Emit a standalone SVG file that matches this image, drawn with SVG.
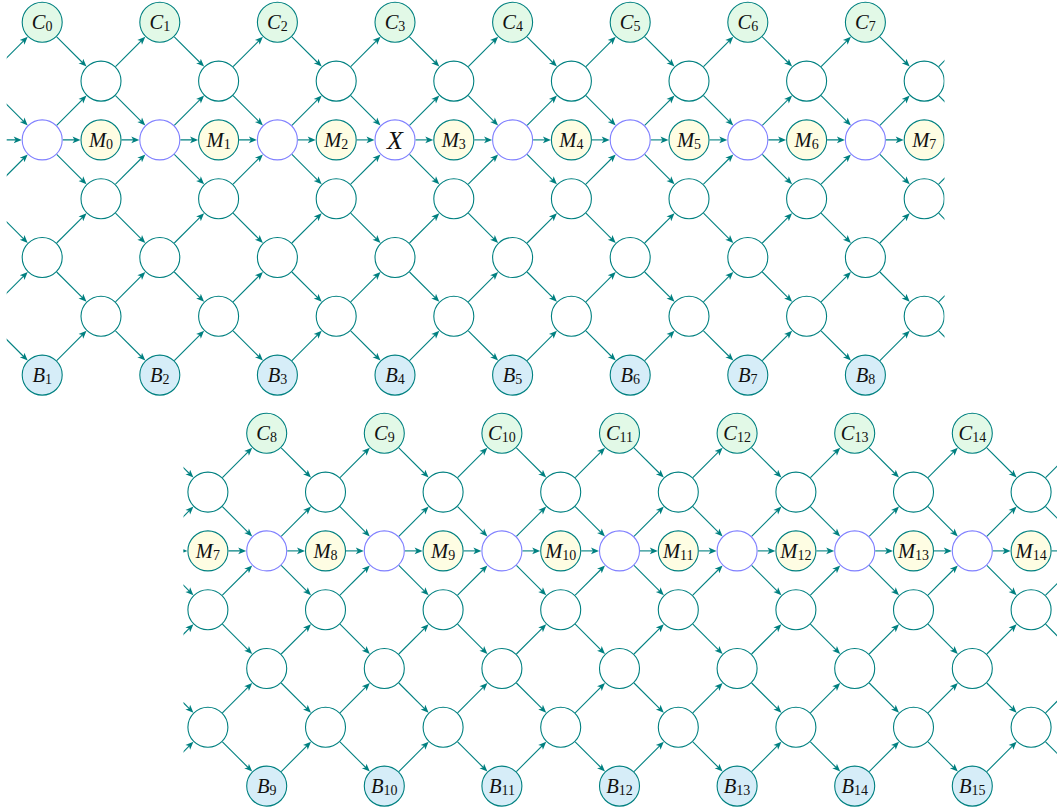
<svg xmlns="http://www.w3.org/2000/svg" width="1057" height="810" viewBox="0 0 1057 810">
<style>
.e line{stroke:#008080;stroke-width:1.1;fill:none;marker-end:url(#ah)}
.n{fill:#fff;stroke:#008080;stroke-width:1.1}
.c{fill:#e2f9e7}
.m{fill:#fefde3}
.b{fill:#d6edf8}
.x{stroke:#8080ff}
text{font-family:"Liberation Serif","DejaVu Serif",serif;font-style:italic;font-size:20.5px;fill:#111;text-anchor:middle}
.s{font-style:normal;font-size:14px}
.big{font-size:26px}
</style>
<defs>
<marker id="ah" viewBox="-6 -4 10 8" refX="0" refY="0" markerWidth="10" markerHeight="8" markerUnits="userSpaceOnUse" orient="auto">
<path d="M3,0 L-5,-3.3 L-3,0 L-5,3.3 Z" fill="#008080"/>
</marker>
<g id="cell" class="e">
<line x1="14.5" y1="14.5" x2="42.2" y2="42.2"/>
<line x1="14.5" y1="103.1" x2="42.2" y2="75.4"/>
<line x1="20.5" y1="117.6" x2="35.3" y2="117.6"/>
<line x1="14.5" y1="132.1" x2="42.2" y2="159.8"/>
<line x1="14.5" y1="220.7" x2="42.2" y2="193"/>
<line x1="14.5" y1="249.7" x2="42.2" y2="277.4"/>
<line x1="14.5" y1="338.3" x2="42.2" y2="310.6"/>
<line x1="73.3" y1="44.3" x2="101" y2="16.6"/>
<line x1="73.3" y1="73.3" x2="101" y2="101"/>
<line x1="79.3" y1="117.6" x2="94.1" y2="117.6"/>
<line x1="73.3" y1="161.9" x2="101" y2="134.2"/>
<line x1="73.3" y1="190.9" x2="101" y2="218.6"/>
<line x1="73.3" y1="279.5" x2="101" y2="251.8"/>
<line x1="73.3" y1="308.5" x2="101" y2="336.2"/>
</g>
<clipPath id="clipTop"><rect x="6.7" y="-5" width="937.8" height="405"/></clipPath>
<clipPath id="clipBot"><rect x="183.5" y="400" width="900" height="420"/></clipPath>
</defs>

<g id="top-panel" clip-path="url(#clipTop)">
<g id="connectors-top">
<use href="#cell" x="-75.4" y="22.3"/>
<use href="#cell" x="42.2" y="22.3"/>
<use href="#cell" x="159.8" y="22.3"/>
<use href="#cell" x="277.4" y="22.3"/>
<use href="#cell" x="395" y="22.3"/>
<use href="#cell" x="512.6" y="22.3"/>
<use href="#cell" x="630.2" y="22.3"/>
<use href="#cell" x="747.8" y="22.3"/>
<use href="#cell" x="865.4" y="22.3"/>
</g>
<g id="nodes-top">
<g id="C0"><circle class="n c" cx="42.2" cy="22.3" r="20"/><text x="42.2" y="29">C<tspan class="s" dy="2">0</tspan></text></g>
<g id="C1"><circle class="n c" cx="159.8" cy="22.3" r="20"/><text x="159.8" y="29">C<tspan class="s" dy="2">1</tspan></text></g>
<g id="C2"><circle class="n c" cx="277.4" cy="22.3" r="20"/><text x="277.4" y="29">C<tspan class="s" dy="2">2</tspan></text></g>
<g id="C3"><circle class="n c" cx="395" cy="22.3" r="20"/><text x="395" y="29">C<tspan class="s" dy="2">3</tspan></text></g>
<g id="C4"><circle class="n c" cx="512.6" cy="22.3" r="20"/><text x="512.6" y="29">C<tspan class="s" dy="2">4</tspan></text></g>
<g id="C5"><circle class="n c" cx="630.2" cy="22.3" r="20"/><text x="630.2" y="29">C<tspan class="s" dy="2">5</tspan></text></g>
<g id="C6"><circle class="n c" cx="747.8" cy="22.3" r="20"/><text x="747.8" y="29">C<tspan class="s" dy="2">6</tspan></text></g>
<g id="C7"><circle class="n c" cx="865.4" cy="22.3" r="20"/><text x="865.4" y="29">C<tspan class="s" dy="2">7</tspan></text></g>

<g id="tv0"><circle class="n x" cx="42.2" cy="139.9" r="20"/></g>
<g id="tv1"><circle class="n x" cx="159.8" cy="139.9" r="20"/></g>
<g id="tv2"><circle class="n x" cx="277.4" cy="139.9" r="20"/></g>
<g id="X"><circle class="n x" cx="395" cy="139.9" r="20"/><text class="big" x="395" y="149">X</text></g>
<g id="tv4"><circle class="n x" cx="512.6" cy="139.9" r="20"/></g>
<g id="tv5"><circle class="n x" cx="630.2" cy="139.9" r="20"/></g>
<g id="tv6"><circle class="n x" cx="747.8" cy="139.9" r="20"/></g>
<g id="tv7"><circle class="n x" cx="865.4" cy="139.9" r="20"/></g>

<g id="ta0"><circle class="n" cx="42.2" cy="257.5" r="20"/></g>
<g id="ta1"><circle class="n" cx="159.8" cy="257.5" r="20"/></g>
<g id="ta2"><circle class="n" cx="277.4" cy="257.5" r="20"/></g>
<g id="ta3"><circle class="n" cx="395" cy="257.5" r="20"/></g>
<g id="ta4"><circle class="n" cx="512.6" cy="257.5" r="20"/></g>
<g id="ta5"><circle class="n" cx="630.2" cy="257.5" r="20"/></g>
<g id="ta6"><circle class="n" cx="747.8" cy="257.5" r="20"/></g>
<g id="ta7"><circle class="n" cx="865.4" cy="257.5" r="20"/></g>

<g id="B1"><circle class="n b" cx="42.2" cy="375.1" r="20"/><text x="42.2" y="381.8">B<tspan class="s" dy="2">1</tspan></text></g>
<g id="B2"><circle class="n b" cx="159.8" cy="375.1" r="20"/><text x="159.8" y="381.8">B<tspan class="s" dy="2">2</tspan></text></g>
<g id="B3"><circle class="n b" cx="277.4" cy="375.1" r="20"/><text x="277.4" y="381.8">B<tspan class="s" dy="2">3</tspan></text></g>
<g id="B4"><circle class="n b" cx="395" cy="375.1" r="20"/><text x="395" y="381.8">B<tspan class="s" dy="2">4</tspan></text></g>
<g id="B5"><circle class="n b" cx="512.6" cy="375.1" r="20"/><text x="512.6" y="381.8">B<tspan class="s" dy="2">5</tspan></text></g>
<g id="B6"><circle class="n b" cx="630.2" cy="375.1" r="20"/><text x="630.2" y="381.8">B<tspan class="s" dy="2">6</tspan></text></g>
<g id="B7"><circle class="n b" cx="747.8" cy="375.1" r="20"/><text x="747.8" y="381.8">B<tspan class="s" dy="2">7</tspan></text></g>
<g id="B8"><circle class="n b" cx="865.4" cy="375.1" r="20"/><text x="865.4" y="381.8">B<tspan class="s" dy="2">8</tspan></text></g>

<g id="tb1_0"><circle class="n" cx="101" cy="81.1" r="20"/></g>
<g id="tb1_1"><circle class="n" cx="218.6" cy="81.1" r="20"/></g>
<g id="tb1_2"><circle class="n" cx="336.2" cy="81.1" r="20"/></g>
<g id="tb1_3"><circle class="n" cx="453.8" cy="81.1" r="20"/></g>
<g id="tb1_4"><circle class="n" cx="571.4" cy="81.1" r="20"/></g>
<g id="tb1_5"><circle class="n" cx="689" cy="81.1" r="20"/></g>
<g id="tb1_6"><circle class="n" cx="806.6" cy="81.1" r="20"/></g>
<g id="tb1_7"><circle class="n" cx="924.2" cy="81.1" r="20"/></g>

<g id="M0"><circle class="n m" cx="101" cy="139.9" r="20"/><text x="101" y="146.6">M<tspan class="s" dy="2">0</tspan></text></g>
<g id="M1"><circle class="n m" cx="218.6" cy="139.9" r="20"/><text x="218.6" y="146.6">M<tspan class="s" dy="2">1</tspan></text></g>
<g id="M2"><circle class="n m" cx="336.2" cy="139.9" r="20"/><text x="336.2" y="146.6">M<tspan class="s" dy="2">2</tspan></text></g>
<g id="M3"><circle class="n m" cx="453.8" cy="139.9" r="20"/><text x="453.8" y="146.6">M<tspan class="s" dy="2">3</tspan></text></g>
<g id="M4"><circle class="n m" cx="571.4" cy="139.9" r="20"/><text x="571.4" y="146.6">M<tspan class="s" dy="2">4</tspan></text></g>
<g id="M5"><circle class="n m" cx="689" cy="139.9" r="20"/><text x="689" y="146.6">M<tspan class="s" dy="2">5</tspan></text></g>
<g id="M6"><circle class="n m" cx="806.6" cy="139.9" r="20"/><text x="806.6" y="146.6">M<tspan class="s" dy="2">6</tspan></text></g>
<g id="M7top"><circle class="n m" cx="924.2" cy="139.9" r="20"/><text x="924.2" y="146.6">M<tspan class="s" dy="2">7</tspan></text></g>

<g id="tb3_0"><circle class="n" cx="101" cy="198.7" r="20"/></g>
<g id="tb3_1"><circle class="n" cx="218.6" cy="198.7" r="20"/></g>
<g id="tb3_2"><circle class="n" cx="336.2" cy="198.7" r="20"/></g>
<g id="tb3_3"><circle class="n" cx="453.8" cy="198.7" r="20"/></g>
<g id="tb3_4"><circle class="n" cx="571.4" cy="198.7" r="20"/></g>
<g id="tb3_5"><circle class="n" cx="689" cy="198.7" r="20"/></g>
<g id="tb3_6"><circle class="n" cx="806.6" cy="198.7" r="20"/></g>
<g id="tb3_7"><circle class="n" cx="924.2" cy="198.7" r="20"/></g>

<g id="tb5_0"><circle class="n" cx="101" cy="316.3" r="20"/></g>
<g id="tb5_1"><circle class="n" cx="218.6" cy="316.3" r="20"/></g>
<g id="tb5_2"><circle class="n" cx="336.2" cy="316.3" r="20"/></g>
<g id="tb5_3"><circle class="n" cx="453.8" cy="316.3" r="20"/></g>
<g id="tb5_4"><circle class="n" cx="571.4" cy="316.3" r="20"/></g>
<g id="tb5_5"><circle class="n" cx="689" cy="316.3" r="20"/></g>
<g id="tb5_6"><circle class="n" cx="806.6" cy="316.3" r="20"/></g>
<g id="tb5_7"><circle class="n" cx="924.2" cy="316.3" r="20"/></g>
</g>
</g>

<g id="bottom-panel" clip-path="url(#clipBot)">
<g id="connectors-bottom">
<use href="#cell" x="149.1" y="433.3"/>
<use href="#cell" x="266.7" y="433.3"/>
<use href="#cell" x="384.3" y="433.3"/>
<use href="#cell" x="501.9" y="433.3"/>
<use href="#cell" x="619.5" y="433.3"/>
<use href="#cell" x="737.1" y="433.3"/>
<use href="#cell" x="854.7" y="433.3"/>
<use href="#cell" x="972.3" y="433.3"/>
</g>
<g id="nodes-bottom">
<g id="C8"><circle class="n c" cx="266.7" cy="433.3" r="20"/><text x="266.7" y="440">C<tspan class="s" dy="2">8</tspan></text></g>
<g id="C9"><circle class="n c" cx="384.3" cy="433.3" r="20"/><text x="384.3" y="440">C<tspan class="s" dy="2">9</tspan></text></g>
<g id="C10"><circle class="n c" cx="501.9" cy="433.3" r="20"/><text x="501.9" y="440">C<tspan class="s" dy="2">10</tspan></text></g>
<g id="C11"><circle class="n c" cx="619.5" cy="433.3" r="20"/><text x="619.5" y="440">C<tspan class="s" dy="2">11</tspan></text></g>
<g id="C12"><circle class="n c" cx="737.1" cy="433.3" r="20"/><text x="737.1" y="440">C<tspan class="s" dy="2">12</tspan></text></g>
<g id="C13"><circle class="n c" cx="854.7" cy="433.3" r="20"/><text x="854.7" y="440">C<tspan class="s" dy="2">13</tspan></text></g>
<g id="C14"><circle class="n c" cx="972.3" cy="433.3" r="20"/><text x="972.3" y="440">C<tspan class="s" dy="2">14</tspan></text></g>

<g id="bv0"><circle class="n x" cx="266.7" cy="550.9" r="20"/></g>
<g id="bv1"><circle class="n x" cx="384.3" cy="550.9" r="20"/></g>
<g id="bv2"><circle class="n x" cx="501.9" cy="550.9" r="20"/></g>
<g id="bv3"><circle class="n x" cx="619.5" cy="550.9" r="20"/></g>
<g id="bv4"><circle class="n x" cx="737.1" cy="550.9" r="20"/></g>
<g id="bv5"><circle class="n x" cx="854.7" cy="550.9" r="20"/></g>
<g id="bv6"><circle class="n x" cx="972.3" cy="550.9" r="20"/></g>

<g id="ba0"><circle class="n" cx="266.7" cy="668.5" r="20"/></g>
<g id="ba1"><circle class="n" cx="384.3" cy="668.5" r="20"/></g>
<g id="ba2"><circle class="n" cx="501.9" cy="668.5" r="20"/></g>
<g id="ba3"><circle class="n" cx="619.5" cy="668.5" r="20"/></g>
<g id="ba4"><circle class="n" cx="737.1" cy="668.5" r="20"/></g>
<g id="ba5"><circle class="n" cx="854.7" cy="668.5" r="20"/></g>
<g id="ba6"><circle class="n" cx="972.3" cy="668.5" r="20"/></g>

<g id="B9"><circle class="n b" cx="266.7" cy="786.1" r="20"/><text x="266.7" y="792.8">B<tspan class="s" dy="2">9</tspan></text></g>
<g id="B10"><circle class="n b" cx="384.3" cy="786.1" r="20"/><text x="384.3" y="792.8">B<tspan class="s" dy="2">10</tspan></text></g>
<g id="B11"><circle class="n b" cx="501.9" cy="786.1" r="20"/><text x="501.9" y="792.8">B<tspan class="s" dy="2">11</tspan></text></g>
<g id="B12"><circle class="n b" cx="619.5" cy="786.1" r="20"/><text x="619.5" y="792.8">B<tspan class="s" dy="2">12</tspan></text></g>
<g id="B13"><circle class="n b" cx="737.1" cy="786.1" r="20"/><text x="737.1" y="792.8">B<tspan class="s" dy="2">13</tspan></text></g>
<g id="B14"><circle class="n b" cx="854.7" cy="786.1" r="20"/><text x="854.7" y="792.8">B<tspan class="s" dy="2">14</tspan></text></g>
<g id="B15"><circle class="n b" cx="972.3" cy="786.1" r="20"/><text x="972.3" y="792.8">B<tspan class="s" dy="2">15</tspan></text></g>

<g id="bb1_0"><circle class="n" cx="207.9" cy="492.1" r="20"/></g>
<g id="bb1_1"><circle class="n" cx="325.5" cy="492.1" r="20"/></g>
<g id="bb1_2"><circle class="n" cx="443.1" cy="492.1" r="20"/></g>
<g id="bb1_3"><circle class="n" cx="560.7" cy="492.1" r="20"/></g>
<g id="bb1_4"><circle class="n" cx="678.3" cy="492.1" r="20"/></g>
<g id="bb1_5"><circle class="n" cx="795.9" cy="492.1" r="20"/></g>
<g id="bb1_6"><circle class="n" cx="913.5" cy="492.1" r="20"/></g>
<g id="bb1_7"><circle class="n" cx="1031.1" cy="492.1" r="20"/></g>

<g id="M7"><circle class="n m" cx="207.9" cy="550.9" r="20"/><text x="207.9" y="557.6">M<tspan class="s" dy="2">7</tspan></text></g>
<g id="M8"><circle class="n m" cx="325.5" cy="550.9" r="20"/><text x="325.5" y="557.6">M<tspan class="s" dy="2">8</tspan></text></g>
<g id="M9"><circle class="n m" cx="443.1" cy="550.9" r="20"/><text x="443.1" y="557.6">M<tspan class="s" dy="2">9</tspan></text></g>
<g id="M10"><circle class="n m" cx="560.7" cy="550.9" r="20"/><text x="560.7" y="557.6">M<tspan class="s" dy="2">10</tspan></text></g>
<g id="M11"><circle class="n m" cx="678.3" cy="550.9" r="20"/><text x="678.3" y="557.6">M<tspan class="s" dy="2">11</tspan></text></g>
<g id="M12"><circle class="n m" cx="795.9" cy="550.9" r="20"/><text x="795.9" y="557.6">M<tspan class="s" dy="2">12</tspan></text></g>
<g id="M13"><circle class="n m" cx="913.5" cy="550.9" r="20"/><text x="913.5" y="557.6">M<tspan class="s" dy="2">13</tspan></text></g>
<g id="M14"><circle class="n m" cx="1031.1" cy="550.9" r="20"/><text x="1031.1" y="557.6">M<tspan class="s" dy="2">14</tspan></text></g>

<g id="bb3_0"><circle class="n" cx="207.9" cy="609.7" r="20"/></g>
<g id="bb3_1"><circle class="n" cx="325.5" cy="609.7" r="20"/></g>
<g id="bb3_2"><circle class="n" cx="443.1" cy="609.7" r="20"/></g>
<g id="bb3_3"><circle class="n" cx="560.7" cy="609.7" r="20"/></g>
<g id="bb3_4"><circle class="n" cx="678.3" cy="609.7" r="20"/></g>
<g id="bb3_5"><circle class="n" cx="795.9" cy="609.7" r="20"/></g>
<g id="bb3_6"><circle class="n" cx="913.5" cy="609.7" r="20"/></g>
<g id="bb3_7"><circle class="n" cx="1031.1" cy="609.7" r="20"/></g>

<g id="bb5_0"><circle class="n" cx="207.9" cy="727.3" r="20"/></g>
<g id="bb5_1"><circle class="n" cx="325.5" cy="727.3" r="20"/></g>
<g id="bb5_2"><circle class="n" cx="443.1" cy="727.3" r="20"/></g>
<g id="bb5_3"><circle class="n" cx="560.7" cy="727.3" r="20"/></g>
<g id="bb5_4"><circle class="n" cx="678.3" cy="727.3" r="20"/></g>
<g id="bb5_5"><circle class="n" cx="795.9" cy="727.3" r="20"/></g>
<g id="bb5_6"><circle class="n" cx="913.5" cy="727.3" r="20"/></g>
<g id="bb5_7"><circle class="n" cx="1031.1" cy="727.3" r="20"/></g>
</g>
</g>
</svg>
